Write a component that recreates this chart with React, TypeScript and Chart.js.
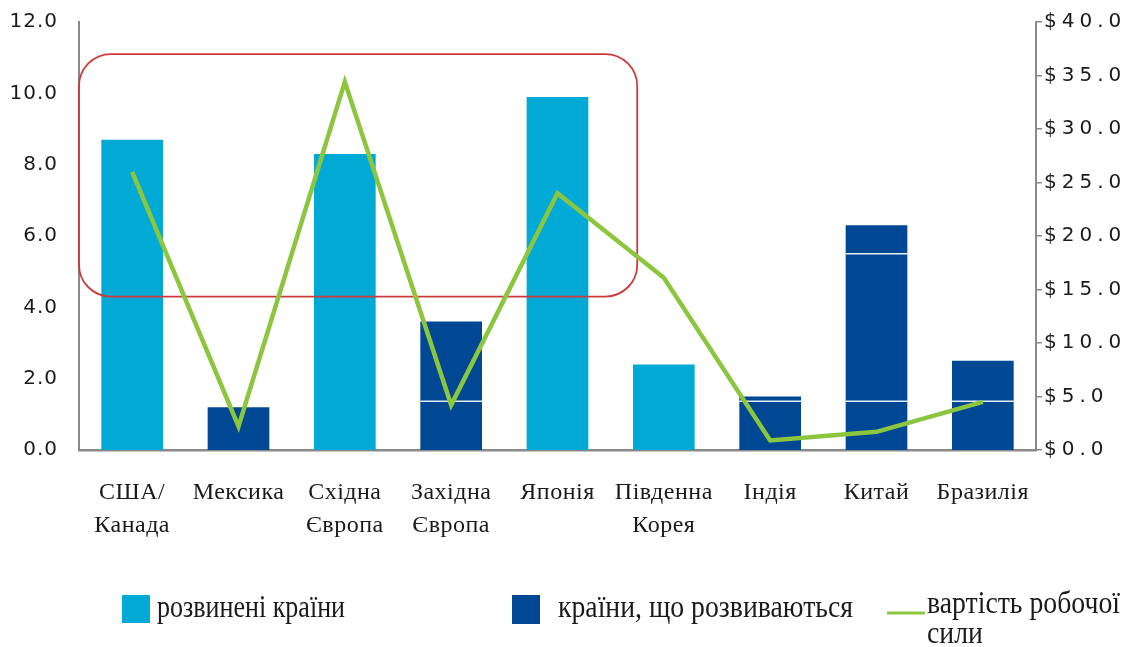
import React, { useEffect, useRef } from 'react';
import { Chart, registerables } from 'chart.js';

Chart.register(...registerables);

// ---- data ----
const categories: (string | string[])[] = [
  ['США/', 'Канада'],
  'Мексика',
  ['Східна', 'Європа'],
  ['Західна', 'Європа'],
  'Японія',
  ['Південна', 'Корея'],
  'Індія',
  'Китай',
  'Бразилія',
];
const developed: (number | null)[] = [8.7, null, 8.3, null, 9.9, 2.4, null, null, null];
const developing: (number | null)[] = [null, 1.2, null, 3.6, null, null, 1.5, 6.3, 2.5];
const laborCost: number[] = [26.0, 2.2, 34.4, 4.2, 24.0, 16.1, 0.9, 1.7, 4.5];

const seriesNames = ['розвинені країни', 'країни, що розвиваються', 'вартість робочої сили'];
const legendLines = [['розвинені країни'], ['країни, що розвиваються'], ['вартість робочої', 'сили']];

const leftAxis = { min: 0, max: 12, step: 2 };
const rightAxis = { min: 0, max: 40, step: 5 };

// highlighted region (category index range, left-axis value range)
const highlight = { xFrom: -0.5, xTo: 4.75, yFrom: 4.3, yTo: 11.1 };
// thin white separators visible inside the dark bars (left-axis values)
const developingBands = [1.37, 5.5];

// ---- styles ----
const LIGHT = '#00AAD5';
const DARK = '#004893';
const GREEN = '#8CC63F';
const RED = '#CC3A3A';
const AXIS = '#8a8a8a';
const TEXT = '#1a1a1a';
const SANS = "'DejaVu Sans', 'Open Sans', sans-serif";
const SERIF = "'Liberation Serif', 'DejaVu Serif', serif";

const letterSpacing: Record<string, string> = { x: '0.5px', y: '1px', y1: '5px' };

const spacingPlugin = {
  id: 'spacing',
  beforeLayout(chart: any) {
    Object.keys(letterSpacing).forEach((id) => {
      const s = chart.scales[id];
      if (s && !s.__patched) {
        const orig = s.drawLabels;
        s.drawLabels = function (area: any) {
          const ctx = this.ctx;
          ctx.save();
          (ctx as any).letterSpacing = letterSpacing[id];
          orig.call(this, area);
          ctx.restore();
        };
        s.__patched = true;
      }
    });
  },
};

const highlightPlugin = {
  id: 'highlightBox',
  afterDatasetDraw(chart: any, args: any) {
    if (args.index !== 2) return;
    const { ctx } = chart;
    const ys = chart.scales.y;
    ctx.save();
    ctx.strokeStyle = 'rgba(255,255,255,0.9)';
    ctx.lineWidth = 1.5;
    const meta = chart.getDatasetMeta(2);
    meta.data.forEach((el: any, i: number) => {
      const v = developing[i];
      if (v == null) return;
      developingBands.forEach((b) => {
        if (v > b + 0.05) {
          const y = ys.getPixelForValue(b);
          ctx.beginPath();
          ctx.moveTo(el.x - el.width / 2, y);
          ctx.lineTo(el.x + el.width / 2, y);
          ctx.stroke();
        }
      });
    });
    ctx.restore();
  },
  beforeDatasetDraw(chart: any, args: any) {
    if (args.index !== 0) return;
    const { ctx } = chart;
    const xs = chart.scales.x;
    const ys = chart.scales.y;
    const x1 = xs.getPixelForValue(highlight.xFrom);
    const x2 = xs.getPixelForValue(highlight.xTo);
    const y1 = ys.getPixelForValue(highlight.yTo);
    const y2 = ys.getPixelForValue(highlight.yFrom);
    ctx.save();
    ctx.strokeStyle = RED;
    ctx.lineWidth = 1.8;
    ctx.beginPath();
    (ctx as any).roundRect(x1, y1, x2 - x1, y2 - y1, 32);
    ctx.stroke();
    ctx.restore();
  },
};

const legendPlugin = {
  id: 'customLegend',
  afterDraw(chart: any) {
    const ctx: CanvasRenderingContext2D = chart.ctx;
    ctx.save();
    ctx.fillStyle = LIGHT;
    ctx.fillRect(122, 595, 28, 28);
    ctx.fillStyle = DARK;
    ctx.fillRect(512, 595, 28, 29);
    ctx.strokeStyle = GREEN;
    ctx.lineWidth = 3;
    ctx.beginPath();
    ctx.moveTo(887, 613);
    ctx.lineTo(925, 613);
    ctx.stroke();

    ctx.fillStyle = TEXT;
    ctx.font = `31px ${SERIF}`;
    ctx.textBaseline = 'alphabetic';
    ctx.textAlign = 'left';
    const items = [
      { lines: legendLines[0], x: 157, y: [617], w: 188 },
      { lines: legendLines[1], x: 558, y: [617], w: 295 },
      { lines: legendLines[2], x: 927, y: [613, 643], w: 193 },
    ];
    items.forEach((it) => {
      const m = ctx.measureText(it.lines[0]).width;
      const sx = it.w / m;
      it.lines.forEach((line, i) => {
        ctx.save();
        ctx.translate(it.x, it.y[i]);
        ctx.scale(sx, 1);
        ctx.fillText(line, 0, 0);
        ctx.restore();
      });
    });
    ctx.restore();
  },
};

export default function App() {
  const ref = useRef<HTMLCanvasElement | null>(null);

  useEffect(() => {
    if (!ref.current) return;
    const chart = new Chart(ref.current, {
      type: 'bar',
      data: {
        labels: categories as any,
        datasets: [
          {
            type: 'line',
            label: seriesNames[2],
            data: laborCost,
            yAxisID: 'y1',
            borderColor: GREEN,
            backgroundColor: GREEN,
            borderWidth: 4.5,
            pointRadius: 0,
            tension: 0,
            fill: false,
            order: 0,
          } as any,
          {
            type: 'bar',
            label: seriesNames[0],
            data: developed,
            yAxisID: 'y',
            backgroundColor: LIGHT,
            barPercentage: 0.58,
            categoryPercentage: 1,
            order: 1,
          },
          {
            type: 'bar',
            label: seriesNames[1],
            data: developing,
            yAxisID: 'y',
            backgroundColor: DARK,
            barPercentage: 0.58,
            categoryPercentage: 1,
            order: 1,
          },
        ],
      },
      options: {
        responsive: false,
        animation: false,
        devicePixelRatio: 1,
        layout: { padding: { top: 22, left: 0, right: 0, bottom: 0 } },
        plugins: {
          legend: { display: false },
          tooltip: { enabled: false },
        },
        scales: {
          x: {
            stacked: true,
            offset: true,
            grid: { display: false, drawTicks: false },
            border: { display: true, color: AXIS, width: 2.5 },
            ticks: {
              font: { family: SERIF, size: 24, lineHeight: 1.35 },
              color: TEXT,
              padding: 27,
              maxRotation: 0,
              autoSkip: false,
            },
            afterFit: (s: any) => {
              s.height = 197;
            },
          },
          y: {
            stacked: true,
            position: 'left',
            min: leftAxis.min,
            max: leftAxis.max,
            grid: { display: false, drawTicks: false },
            border: { display: true, color: AXIS, width: 2 },
            ticks: {
              stepSize: leftAxis.step,
              callback: (v: any) => Number(v).toFixed(1),
              font: { family: SANS, size: 20 },
              color: TEXT,
              padding: 21,
            },
            afterFit: (s: any) => {
              s.width = 79;
              s.paddingTop = 0;
              s.paddingBottom = 0;
            },
          },
          y1: {
            position: 'right',
            min: rightAxis.min,
            max: rightAxis.max,
            grid: {
              display: true,
              drawOnChartArea: false,
              drawTicks: true,
              tickLength: 6,
              color: AXIS,
              lineWidth: 1.5,
            },
            border: { display: true, color: AXIS, width: 2 },
            ticks: {
              stepSize: rightAxis.step,
              callback: (v: any) => '$' + Number(v).toFixed(1),
              font: { family: SANS, size: 20 },
              color: TEXT,
              padding: 2,
            },
            afterFit: (s: any) => {
              s.width = 93;
              s.paddingTop = 0;
              s.paddingBottom = 0;
            },
          },
        },
      },
      plugins: [spacingPlugin, highlightPlugin, legendPlugin],
    });
    return () => chart.destroy();
  }, []);

  return (
    <div style={{ position: 'absolute', left: 0, top: 0, width: 1129, height: 647, background: '#fff' }}>
      <canvas ref={ref} width={1129} height={647} style={{ display: 'block' }} />
    </div>
  );
}
